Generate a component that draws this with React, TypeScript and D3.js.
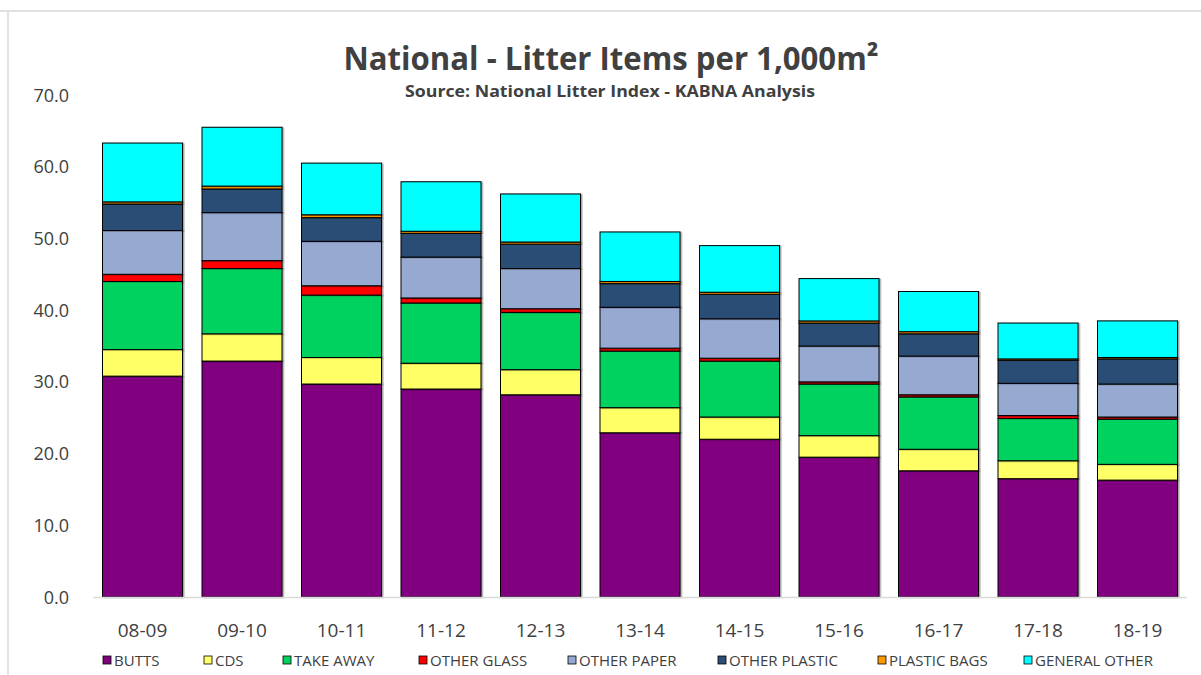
import React from "react";
import * as d3 from "d3";

// Financial years
const years = ["08-09", "09-10", "10-11", "11-12", "12-13", "13-14", "14-15", "15-16", "16-17", "17-18", "18-19"];

// Litter items per 1,000m² by category, stacked bottom to top
const butts = [30.8, 32.9, 29.7, 29.0, 28.2, 22.9, 22.0, 19.5, 17.6, 16.5, 16.3];
const cds = [3.7, 3.8, 3.7, 3.6, 3.5, 3.5, 3.1, 3.0, 3.0, 2.5, 2.2];
const takeAway = [9.5, 9.1, 8.7, 8.4, 8.0, 7.9, 7.8, 7.2, 7.3, 5.9, 6.3];
const otherGlass = [1.0, 1.1, 1.3, 0.7, 0.5, 0.4, 0.4, 0.3, 0.3, 0.4, 0.3];
const otherPaper = [6.1, 6.7, 6.2, 5.7, 5.6, 5.7, 5.5, 5.0, 5.4, 4.5, 4.6];
const otherPlastic = [3.7, 3.3, 3.3, 3.3, 3.4, 3.3, 3.4, 3.2, 3.1, 3.2, 3.5];
const plasticBags = [0.3, 0.4, 0.4, 0.3, 0.3, 0.3, 0.3, 0.3, 0.3, 0.2, 0.2];
const generalOther = [8.2, 8.2, 7.2, 6.9, 6.7, 6.9, 6.5, 5.9, 5.6, 5.0, 5.1];

const seriesNames = ["BUTTS", "CDS", "TAKE AWAY", "OTHER GLASS", "OTHER PAPER", "OTHER PLASTIC", "PLASTIC BAGS", "GENERAL OTHER"];
const seriesValues = [butts, cds, takeAway, otherGlass, otherPaper, otherPlastic, plasticBags, generalOther];
const seriesColors = ["#800080", "#FFFF66", "#00D25F", "#FF0000", "#95A9D1", "#2C4D76", "#FF9900", "#00FFFF"];

const yTicks = [0, 10, 20, 30, 40, 50, 60, 70];

// Legend label x positions (text start)
const legendX = [114, 215, 294, 430, 579, 729, 889, 1035];

const W = 1201;
const H = 675;
const FONT = "'Open Sans', 'DejaVu Sans', sans-serif";

export default function App() {
  const x = d3
    .scaleBand<string>()
    .domain(years)
    .range([93, 1187])
    .paddingInner(0.196)
    .paddingOuter(0.0955);
  const y = d3.scaleLinear().domain([0, 70]).range([597, 95]);

  const rows = years.map((yr, i) => {
    const r: Record<string, number | string> = { year: yr };
    seriesNames.forEach((n, s) => (r[n] = seriesValues[s][i]));
    return r;
  });
  const stacked = d3.stack<Record<string, number | string>>().keys(seriesNames)(rows as any);

  return (
    <div style={{ position: "absolute", left: 0, top: 0 }}>
      <svg width={W} height={H} style={{ display: "block", background: "#fff" }}>
        <defs>
          <filter id="barShadow" x="-10%" y="-10%" width="130%" height="130%">
            <feDropShadow dx="1.5" dy="0.5" stdDeviation="0.6" floodColor="#000" floodOpacity="0.35" />
          </filter>
        </defs>
        {/* frame */}
        <line x1={0} x2={W} y1={11} y2={11} stroke="#d9d9d9" strokeWidth={1.5} />
        <line x1={8} x2={8} y1={11} y2={H} stroke="#d9d9d9" strokeWidth={1.5} />

        {/* title */}
        <text x={611} y={70} textAnchor="middle" fontFamily={FONT} fontWeight={700} fontSize={33} fill="#404040" textLength={535} lengthAdjust="spacingAndGlyphs">
          National - Litter Items per 1,000m²
        </text>
        <text x={610} y={97} textAnchor="middle" fontFamily={FONT} fontWeight={700} fontSize={16} fill="#404040" textLength={410} lengthAdjust="spacingAndGlyphs">
          Source: National Litter Index - KABNA Analysis
        </text>

        {/* y ticks */}
        {yTicks.map((t) => (
          <text key={t} x={69} y={y(t) + 6.5} textAnchor="end" fontFamily={FONT} fontSize={18} fill="#404040">
            {t.toFixed(1)}
          </text>
        ))}

        {/* bars */}
        {stacked.map((layer, s) => (
          <g key={seriesNames[s]}>
            {layer.map((d, i) => (
              <rect
                key={i}
                x={x(years[i])}
                y={y(d[1])}
                width={x.bandwidth()}
                height={y(d[0]) - y(d[1])}
                fill={seriesColors[s]}
                stroke="#000"
                strokeWidth={1}
                filter="url(#barShadow)"
              />
            ))}
          </g>
        ))}

        {/* x axis line */}
        <line x1={93} x2={1187} y1={y(0) + 0.5} y2={y(0) + 0.5} stroke="#d9d9d9" strokeWidth={1.5} />

        {/* x labels */}
        {years.map((yr) => (
          <text key={yr} x={(x(yr) as number) + x.bandwidth() / 2} y={637} textAnchor="middle" fontFamily={FONT} fontSize={19} fill="#404040">
            {yr}
          </text>
        ))}

        {/* legend */}
        {seriesNames.map((n, s) => (
          <g key={n}>
            <rect x={legendX[s] - 11} y={656} width={8} height={8} fill={seriesColors[s]} stroke="#000" strokeWidth={0.8} />
            <text x={legendX[s]} y={665.5} fontFamily={FONT} fontSize={15} fill="#404040">
              {n}
            </text>
          </g>
        ))}
      </svg>
    </div>
  );
}
